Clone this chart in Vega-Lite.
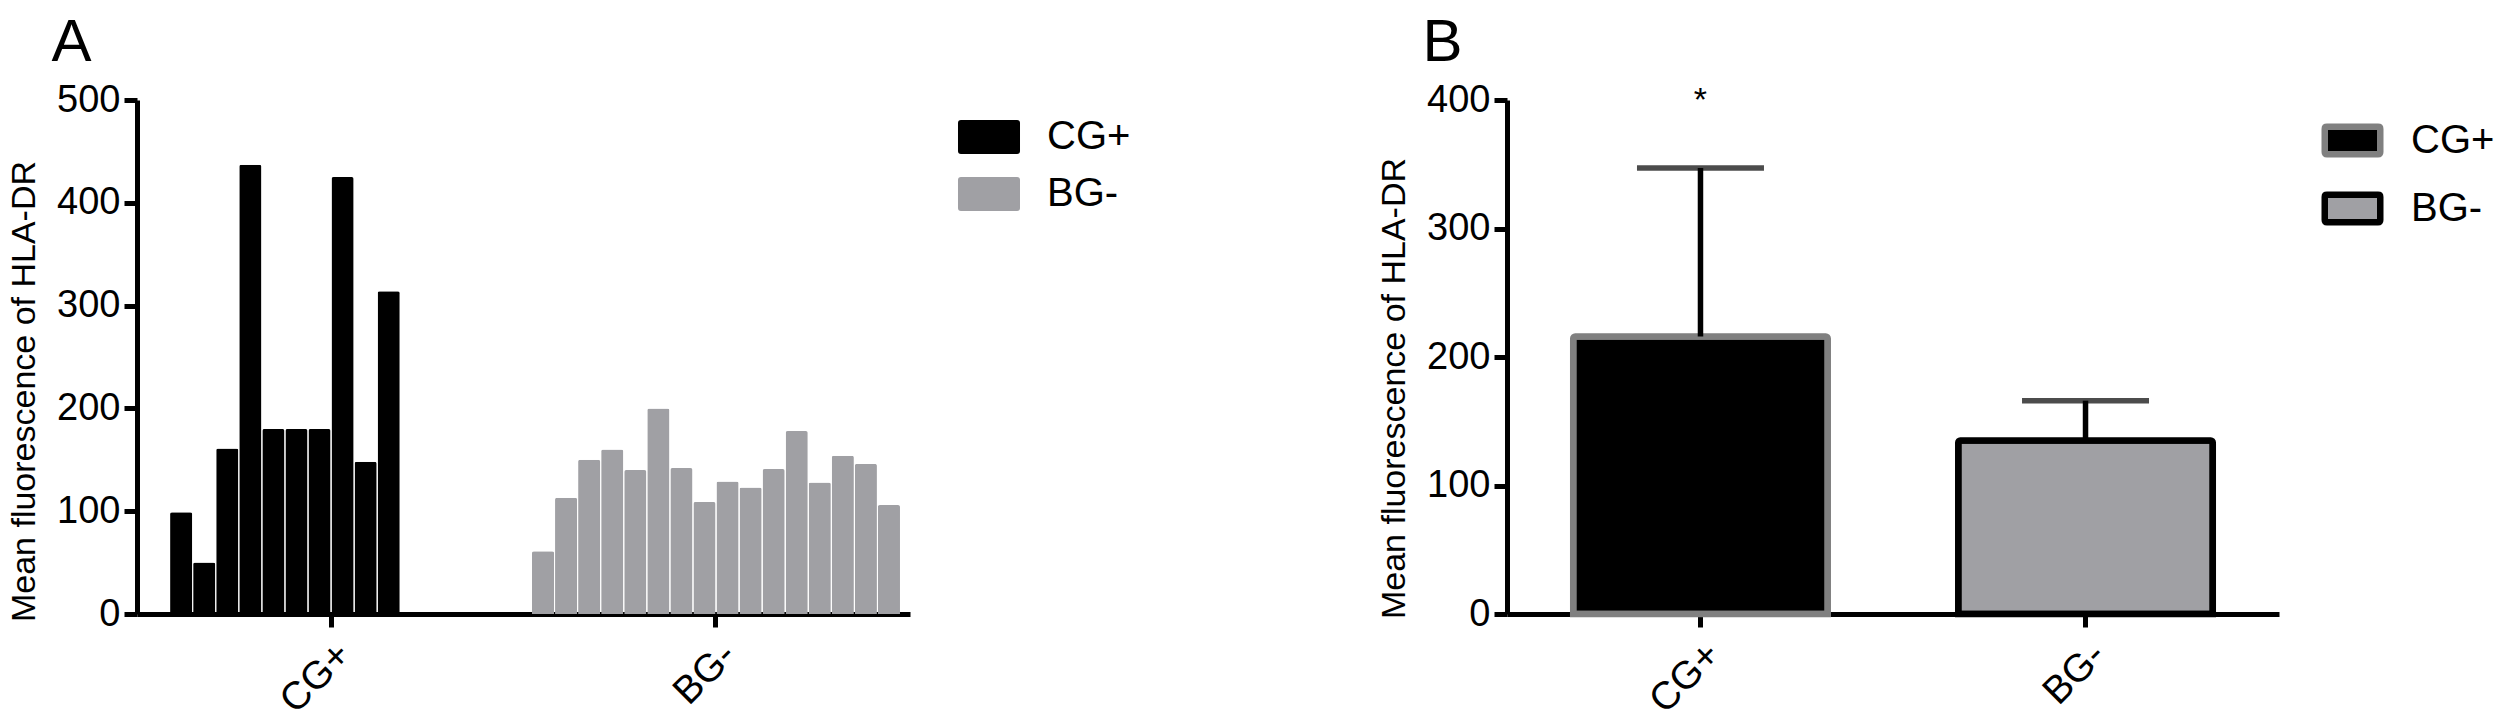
{
  "$schema": "https://vega.github.io/schema/vega-lite/v6.json",
  "autosize": {"type": "pad"},
  "padding": {"left": 7, "top": 13, "right": 0, "bottom": 0},
  "background": "white",
  "spacing": 246,
  "datasets": {
    "individual": [
      {"group": "CG+", "slot": 1, "value": 99},
      {"group": "CG+", "slot": 2, "value": 50},
      {"group": "CG+", "slot": 3, "value": 161},
      {"group": "CG+", "slot": 4, "value": 437},
      {"group": "CG+", "slot": 5, "value": 180},
      {"group": "CG+", "slot": 6, "value": 180},
      {"group": "CG+", "slot": 7, "value": 180},
      {"group": "CG+", "slot": 8, "value": 425},
      {"group": "CG+", "slot": 9, "value": 148},
      {"group": "CG+", "slot": 10, "value": 314},
      {"group": "BG-", "slot": 0, "value": 61},
      {"group": "BG-", "slot": 1, "value": 113},
      {"group": "BG-", "slot": 2, "value": 150},
      {"group": "BG-", "slot": 3, "value": 160},
      {"group": "BG-", "slot": 4, "value": 140},
      {"group": "BG-", "slot": 5, "value": 200},
      {"group": "BG-", "slot": 6, "value": 142},
      {"group": "BG-", "slot": 7, "value": 109},
      {"group": "BG-", "slot": 8, "value": 129},
      {"group": "BG-", "slot": 9, "value": 123},
      {"group": "BG-", "slot": 10, "value": 141},
      {"group": "BG-", "slot": 11, "value": 178},
      {"group": "BG-", "slot": 12, "value": 128},
      {"group": "BG-", "slot": 13, "value": 154},
      {"group": "BG-", "slot": 14, "value": 146},
      {"group": "BG-", "slot": 15, "value": 106}
    ],
    "summary": [
      {"group": "CG+", "mean": 216, "upper": 347, "sig": "*"},
      {"group": "BG-", "mean": 135, "upper": 166, "sig": ""}
    ]
  },
  "config": {
    "font": "Liberation Sans",
    "view": {"stroke": null},
    "axis": {
      "grid": false,
      "domainColor": "black",
      "domainWidth": 5,
      "tickColor": "black",
      "tickWidth": 5,
      "tickSize": 13,
      "labelColor": "black",
      "titleColor": "black",
      "labelFontSize": 38,
      "titleFontSize": 34,
      "titleFontWeight": "normal",
      "labelPadding": 4,
      "titlePadding": 15
    },
    "axisX": {"labelAngle": -45, "labelFontSize": 39, "labelPadding": 8},
    "legend": {
      "title": null,
      "labelFontSize": 40,
      "labelColor": "black",
      "orient": "right",
      "padding": 0,
      "rowPadding": -12
    },
    "title": {"fontSize": 60, "fontWeight": "normal", "anchor": "start", "color": "black", "offset": 7}
  },
  "resolve": {
    "scale": {"color": "independent", "stroke": "independent", "x": "independent", "y": "independent"},
    "legend": {"color": "independent", "stroke": "independent"}
  },
  "hconcat": [
    {
      "title": {"text": "A", "dx": 44},
      "width": 773,
      "height": 514,
      "data": {"name": "individual"},
      "mark": {"type": "bar", "cornerRadiusTopLeft": 2, "cornerRadiusTopRight": 2},
      "encoding": {
        "x": {
          "field": "group", "type": "nominal", "sort": ["CG+", "BG-"],
          "scale": {"paddingInner": 0.044, "paddingOuter": 0.026},
          "axis": {"title": null}
        },
        "xOffset": {
          "field": "slot", "type": "ordinal",
          "scale": {"domain": [0, 1, 2, 3, 4, 5, 6, 7, 8, 9, 10, 11, 12, 13, 14, 15], "paddingInner": 0.04, "paddingOuter": 0}
        },
        "y": {
          "field": "value", "type": "quantitative",
          "scale": {"domain": [0, 500], "nice": false},
          "axis": {"values": [0, 100, 200, 300, 400, 500], "title": "Mean fluorescence of HLA-DR", "titleY": 291}
        },
        "color": {
          "field": "group", "type": "nominal",
          "scale": {"domain": ["CG+", "BG-"], "range": ["#000000", "#a0a0a4"]},
          "legend": {
            "offset": 42,
            "labelOffset": 21,
            "symbolSize": 5476,
            "symbolStrokeWidth": 0,
            "symbolOpacity": 1,
            "symbolType": "M-0.758,-0.4595H0.758Q0.838,-0.4595,0.838,-0.3795V0.3795Q0.838,0.4595,0.758,0.4595H-0.758Q-0.838,0.4595,-0.838,0.3795V-0.3795Q-0.838,-0.4595,-0.758,-0.4595Z"
          }
        }
      }
    },
    {
      "title": {"text": "B", "dx": 45},
      "width": 772,
      "height": 514,
      "data": {"name": "summary"},
      "encoding": {
        "x": {
          "field": "group", "type": "nominal", "sort": ["CG+", "BG-"],
          "scale": {"paddingInner": 0.339, "paddingOuter": 0.172},
          "axis": {"title": null}
        }
      },
      "layer": [
        {
          "mark": {"type": "bar", "strokeWidth": 6.5, "cornerRadiusTopLeft": 2, "cornerRadiusTopRight": 2},
          "encoding": {
            "y": {
              "field": "mean", "type": "quantitative",
              "scale": {"domain": [0, 400], "nice": false},
              "axis": {"values": [0, 100, 200, 300, 400], "title": "Mean fluorescence of HLA-DR", "titleY": 288}
            },
            "color": {
              "field": "group", "type": "nominal",
              "scale": {"domain": ["CG+", "BG-"], "range": ["#000000", "#a0a0a4"]},
              "legend": {
                "offset": 33,
                "labelOffset": 18,
                "symbolSize": 5476,
                "symbolStrokeWidth": 6.5,
                "symbolOpacity": 1,
                "symbolType": "M-0.69,-0.372H0.69Q0.75,-0.372,0.75,-0.312V0.312Q0.75,0.372,0.69,0.372H-0.69Q-0.75,0.372,-0.75,0.312V-0.312Q-0.75,-0.372,-0.69,-0.372Z"
              }
            },
            "stroke": {
              "field": "group", "type": "nominal",
              "scale": {"domain": ["CG+", "BG-"], "range": ["#808080", "#000000"]},
              "legend": {
                "offset": 33,
                "labelOffset": 18,
                "symbolSize": 5476,
                "symbolStrokeWidth": 6.5,
                "symbolOpacity": 1,
                "symbolType": "M-0.69,-0.372H0.69Q0.75,-0.372,0.75,-0.312V0.312Q0.75,0.372,0.69,0.372H-0.69Q-0.75,0.372,-0.75,0.312V-0.312Q-0.75,-0.372,-0.69,-0.372Z"
              }
            }
          }
        },
        {
          "mark": {"type": "rule", "strokeWidth": 5.5, "color": "black"},
          "encoding": {
            "y": {"field": "mean", "type": "quantitative"},
            "y2": {"field": "upper"}
          }
        },
        {
          "mark": {"type": "tick", "thickness": 5.5, "size": 127, "color": "black", "orient": "horizontal"},
          "encoding": {
            "y": {"field": "upper", "type": "quantitative"}
          }
        },
        {
          "mark": {"type": "text", "fontSize": 34, "baseline": "middle", "dy": 1, "color": "black"},
          "encoding": {
            "y": {"datum": 400},
            "text": {"field": "sig"}
          }
        }
      ]
    }
  ]
}
